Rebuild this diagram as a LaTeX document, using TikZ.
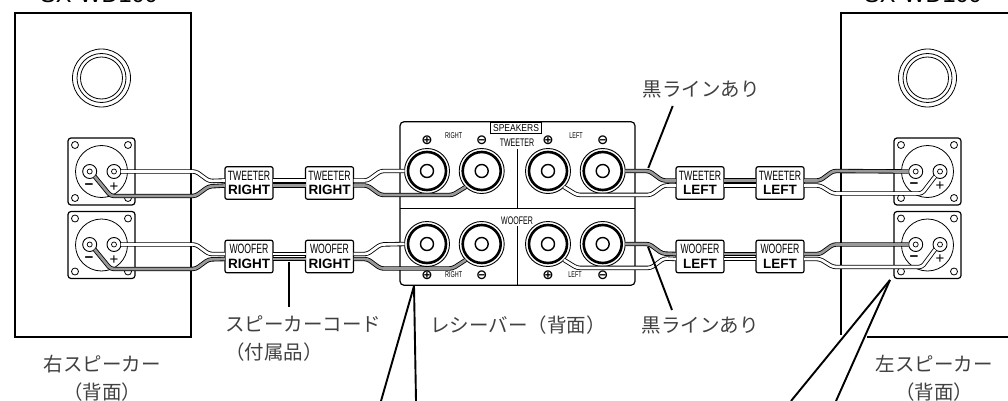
\documentclass[tikz,border=0pt]{standalone}
\usepackage{fontspec}
\setmainfont{Liberation Sans}
\newfontfamily\jpfont{Noto Sans CJK JP}
\newfontfamily\condfont[FakeStretch=0.64]{Liberation Sans}
\newfontfamily\midfont[FakeStretch=0.85]{Liberation Sans}
\newfontfamily\markfont{DejaVu Sans Bold}
\tikzset{
  every node/.append style={inner sep=0pt, outer sep=0pt},
  every path/.append style={line width=1.2pt},
  jplabel/.style={font=\jpfont\fontsize{19.5}{28}\selectfont, text=black!75, align=center},
  cabletag/.style={draw, fill=white, rounded corners=2pt, minimum width=48pt, minimum height=32.5pt,
    align=center, font=\fontsize{13.5}{14.5}\selectfont},
  speakerplate/.style={draw, rounded corners=3pt, minimum size=67pt},
  plateround/.style={draw, circle, line width=.8pt, minimum size=52pt},
  platehole/.style={draw, circle, line width=.8pt, minimum size=7pt},
  terminal/.style={draw, circle, fill=white, line width=.9pt, minimum size=14pt},
  panelhead/.style={font=\condfont\fontsize{11}{12}\selectfont},
  paneltiny/.style={font=\condfont\fontsize{8.5}{9}\selectfont},
  panelmark/.style={font=\markfont\fontsize{13.5}{14}\selectfont},
  leader/.style={draw, line width=1.9pt},
  wirewhite/.style={draw, line width=.85pt, double=white, double distance=2.7pt, rounded corners=3pt},
  wireblack/.style={draw, line width=.85pt, double=black!40, double distance=2.7pt, rounded corners=3pt}
}
\newcommand\speakerplate[2]{
  % #1 - Tikz name
  % #2 - Location
  \node [speakerplate] at (#2) (#1) {};
  \node [plateround] (#1c) at (#1) {};
  \node [platehole] (#1a) at ([shift={(-26.5,-26.5)}]#1) {};
  \node [platehole] (#1b) at ([shift={(26.5,-26.5)}]#1) {};
  \node [platehole] (#1d) at ([shift={(-26.5,26.5)}]#1) {};
  \node [platehole] (#1e) at ([shift={(26.5,26.5)}]#1) {};
}
\newcommand\terminal[2]{
  % #1 - Tikz name
  % #2 - Location
  \node [terminal] at (#2) (#1) {};
  \node [circle, draw, line width=.7pt, minimum size=5pt] (#1i) at (#1) {};
}
\newcommand\bindpost[2]{
  % #1 - Tikz name
  % #2 - Location
  \node [circle, draw, fill=white, line width=.9pt, minimum size=45pt] at (#2) (#1) {};
  \node [circle, draw, line width=2.6pt, minimum size=38pt] (#1r) at (#1) {};
  \node [circle, draw, line width=1.4pt, minimum size=13pt] (#1h) at (#1) {};
}
\newcommand\rightcable[1]{
  % #1 - Row prefix (tw or wf)
  \draw[wirewhite] (#1Rp.east) -- ++(75,0) -- ++(13,9.5) -- ([yshift=2.5pt]#1Ra.west);
  \draw[wireblack] (#1Rm.-45) -- ++(16,19.5) -- ++(85,0) -- ++(13,-9.5) -- ([yshift=-2.5pt]#1Ra.west);
  \draw[wirewhite] ([yshift=2.5pt]#1Ra.east) -- ([yshift=2.5pt]#1Rb.west);
  \draw[wireblack] ([yshift=-2.5pt]#1Ra.east) -- ([yshift=-2.5pt]#1Rb.west);
  \draw[wirewhite] ([yshift=2.5pt]#1Rb.east) -- ++(14,0) -- ++(13,-9.5) -- (#1Pa.west);
  \draw[wireblack] ([yshift=-2.5pt]#1Rb.east) -- ++(14,0) -- ++(13,9.5) -- ++(72,0) -- (#1Pb.225);
}
\newcommand\leftcable[1]{
  % #1 - Row prefix (tw or wf)
  \draw[wireblack] (#1Pd.east) -- ++(24,0) -- ++(13,9.5) -- ([yshift=2.5pt]#1La.west);
  \draw[wirewhite] (#1Pc.-45) -- ++(13,8) -- ++(74,0) -- ++(13,-9.5) -- ([yshift=-2.5pt]#1La.west);
  \draw[wireblack] ([yshift=2.5pt]#1La.east) -- ([yshift=2.5pt]#1Lb.west);
  \draw[wirewhite] ([yshift=-2.5pt]#1La.east) -- ([yshift=-2.5pt]#1Lb.west);
  \draw[wireblack] ([yshift=2.5pt]#1Lb.east) -- ++(16,0) -- ++(13,-9.5) -- (#1Lm.west);
  \draw[wirewhite] ([yshift=-2.5pt]#1Lb.east) -- ++(16,0) -- ++(13,8) -- ++(89,0) -- (#1Lp.225);
}

\begin{document}
\begin{tikzpicture}[x=1pt, y=-1pt]
  \useasboundingbox (0,0) rectangle (1008,401);

  % speakers
  \node [font=\fontsize{23.5}{24}\selectfont, anchor=base] (modelR) at (99,2.7) {SX-WD100};
  \node [font=\fontsize{23.5}{24}\selectfont, anchor=base] (modelL) at (923,2.7) {SX-WD100};
  \draw (15,13) rectangle (191,337);
  \draw (1012,13) -- (841,13) -- (841,335);
  \draw (867,337) -- (1012,337);
  \foreach \cx in {101.5,927.5} {
    \node [circle, draw, line width=.8pt, minimum size=58pt] at (\cx,78) {};
    \node [circle, draw, line width=.8pt, minimum size=49pt] at (\cx,78) {};
    \node [circle, draw, line width=.8pt, minimum size=42pt] at (\cx,78) {};
  }
  \speakerplate{twRs}{101.5,171.5}
  \speakerplate{wfRs}{101.5,245}
  \speakerplate{twLs}{927.5,171.5}
  \speakerplate{wfLs}{927.5,245}

  % receiver panel
  \node [draw, rounded corners=4pt, minimum width=235pt, minimum height=163.5pt] (panel) at (517.5,203.5) {};
  \draw (panel.west |- 0,208.7) -- (panel.east |- 0,208.7);
  \node [draw, fill=white, line width=.9pt, minimum width=51.5pt, minimum height=10.5pt,
    font=\midfont\fontsize{10}{10}\selectfont] (speakers) at (516,128) {SPEAKERS};
  \node [panelhead] (tweeter) at (517,142.7) {TWEETER};
  \node [panelhead] (woofer) at (517,220.7) {WOOFER};
  \coordinate (midA) at (517.3,149);
  \coordinate (midB) at (517.3,208.7);
  \coordinate (midC) at (517.3,226);
  \draw (midA) -- (midB);
  \draw (midC) -- (panel.south -| midC);
  \node [paneltiny] (twRt) at (453.7,136) {RIGHT};
  \node [paneltiny] (twLt) at (576,136) {LEFT};
  \node [paneltiny] (wfRt) at (453.7,275) {RIGHT};
  \node [paneltiny] (wfLt) at (575,275) {LEFT};
  \node [panelmark] (twPap) at (427,140.7) {⊕};
  \node [panelmark] (twPbp) at (481.7,140.7) {⊖};
  \node [panelmark] (twPcp) at (548,140.7) {⊕};
  \node [panelmark] (twPdp) at (602.7,140.7) {⊖};
  \node [panelmark] (wfPap) at (427,275) {⊕};
  \node [panelmark] (wfPbp) at (481.7,275) {⊖};
  \node [panelmark] (wfPcp) at (548,275) {⊕};
  \node [panelmark] (wfPdp) at (602.7,275) {⊖};

  % tags
  \node [cabletag] (twRa) at (249,183) {{\condfont TWEETER}\\{\bfseries RIGHT}};
  \node [cabletag] (twRb) at (329.5,183) {{\condfont TWEETER}\\{\bfseries RIGHT}};
  \node [cabletag] (wfRa) at (249,256.5) {{\condfont WOOFER}\\{\bfseries RIGHT}};
  \node [cabletag] (wfRb) at (329.5,256.5) {{\condfont WOOFER}\\{\bfseries RIGHT}};
  \node [cabletag] (twLa) at (700,183) {{\condfont TWEETER}\\{\bfseries LEFT}};
  \node [cabletag] (twLb) at (780,183) {{\condfont TWEETER}\\{\bfseries LEFT}};
  \node [cabletag] (wfLa) at (700,256.5) {{\condfont WOOFER}\\{\bfseries LEFT}};
  \node [cabletag] (wfLb) at (780,256.5) {{\condfont WOOFER}\\{\bfseries LEFT}};

  % posts and terminals
  \bindpost{twPa}{427,171}
  \bindpost{twPb}{481.7,171}
  \bindpost{twPc}{548,171}
  \bindpost{twPd}{602.7,171}
  \bindpost{wfPa}{427,244}
  \bindpost{wfPb}{481.7,244}
  \bindpost{wfPc}{548,244}
  \bindpost{wfPd}{602.7,244}
  \terminal{twRm}{89.7,171.5}
  \terminal{twRp}{114,171.5}
  \terminal{wfRm}{89.7,244.5}
  \terminal{wfRp}{114,244.5}
  \terminal{twLm}{915.7,171.5}
  \terminal{twLp}{940,171.5}
  \terminal{wfLm}{915.7,244.5}
  \terminal{wfLp}{940,244.5}
  \node [font=\bfseries\fontsize{15}{15}\selectfont] (twRms) at (89,187) {−};
  \node [font=\fontsize{15}{15}\selectfont] (twRps) at (114,187) {+};
  \node [font=\bfseries\fontsize{15}{15}\selectfont] (wfRms) at (89,260) {−};
  \node [font=\fontsize{15}{15}\selectfont] (wfRps) at (114,260) {+};
  \node [font=\bfseries\fontsize{15}{15}\selectfont] (twLms) at (914,186) {−};
  \node [font=\fontsize{15}{15}\selectfont] (twLps) at (940,186) {+};
  \node [font=\bfseries\fontsize{15}{15}\selectfont] (wfLms) at (914,259) {−};
  \node [font=\fontsize{15}{15}\selectfont] (wfLps) at (940,259) {+};

  % cables
  \rightcable{tw}
  \rightcable{wf}
  \leftcable{tw}
  \leftcable{wf}

  % labels and leaders
  \node [jplabel] (lblR) at (102,378) {右スピーカー\\（背面）};
  \node [jplabel] (lblL) at (934,378) {左スピーカー\\（背面）};
  \node [jplabel, align=left, anchor=west] (lblCord) at (225,339) {スピーカーコード\\（付属品）};
  \node [jplabel] (lblRecv) at (518,325) {レシーバー（背面）};
  \node [jplabel] (lblTop) at (701,89) {黒ラインあり};
  \node [jplabel] (lblLow) at (700,325) {黒ラインあり};

  \coordinate (cordA) at (289.3,262);
  \coordinate (cordB) at (289.3,307);
  \coordinate (topA) at (672.7,106);
  \coordinate (topB) at (648.3,168);
  \coordinate (lowA) at (648,246.7);
  \coordinate (lowB) at (672,310);
  \coordinate (recvA) at (414,286);
  \coordinate (recvB) at (381,401);
  \coordinate (recvC) at (416,401);
  \coordinate (spkA) at (890,280);
  \coordinate (spkB) at (791,401);
  \coordinate (spkC) at (836,401);
  \draw[leader] (cordA) -- (cordB);
  \draw[leader] (topA) -- (topB);
  \draw[leader] (lowA) -- (lowB);
  \draw[leader] (recvA) -- (recvB);
  \draw[leader] (recvA) -- (recvC);
  \draw[leader] (spkA) -- (spkB);
  \draw[leader] (spkA) -- (spkC);
\end{tikzpicture}
\end{document}
